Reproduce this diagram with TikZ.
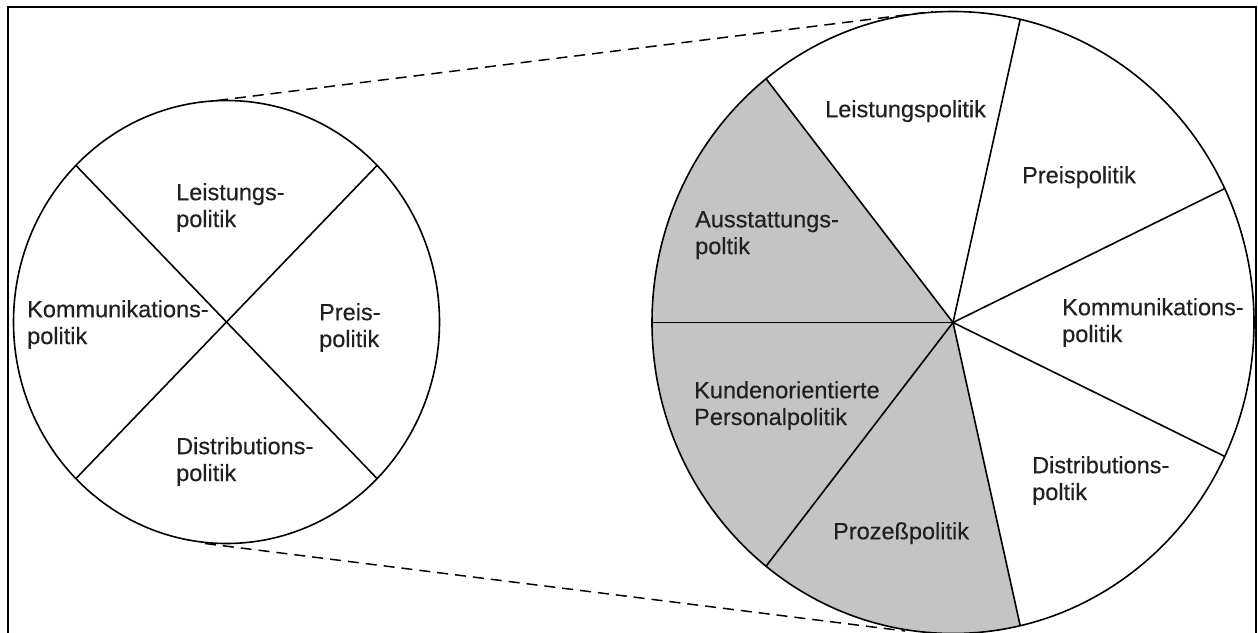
\documentclass[tikz,border=0pt]{standalone}
\usepackage{fontspec}
\setmainfont{Liberation Sans}
\newfontfamily\labelfont{Liberation Sans}[UprightFeatures={FakeBold=0.4}]
\usetikzlibrary{calc}
\definecolor{sectorgray}{RGB}{196,196,196}
\definecolor{ink}{RGB}{35,31,32}
\begin{document}
\begin{tikzpicture}[x=1pt,y=-1pt,
  frameline/.style={line width=2.2pt,black},
  rim/.style={line width=1.6pt,black},
  spoke/.style={line width=1.6pt,black},
  zoomline/.style={line width=1.5pt,black,dash pattern=on 11pt off 7pt},
  label/.style={anchor=north west,inner sep=0pt,align=left,text=ink,
    font=\labelfont\fontsize{23.5}{26.8}\selectfont}]
\useasboundingbox (0,0) rectangle (1258,632);
\clip (0,0) rectangle (1258,632);

% outer frame (open at the bottom edge)
\draw[frameline] (8,650) -- (8,7) -- (1256,7) -- (1256,650);

% ---- small circle: four instruments ----
\coordinate (LC) at (226.5,322);
\foreach \a/\n in {45/a,135/b,225/c,315/d}
  \coordinate (L\n) at ($(LC)+({213pt*cos(\a)},{221.5pt*sin(\a)})$);
\draw[spoke] (La) -- (Lc);
\draw[spoke] (Lb) -- (Ld);
\draw[rim] (LC) ellipse [x radius=213pt, y radius=221.5pt];
\coordinate (LT) at (217,100.5);
\coordinate (LB) at (205,543.5);

\node[label] (l1) at (176,183) {Leistungs-\\politik};
\node[label] (l2) at (27,300) {Kommunikations-\\politik};
\node[label] (l3) at (319,303) {Preis-\\politik};
\node[label] (l4) at (176,437) {Distributions-\\politik};

% ---- large circle: seven instruments ----
\coordinate (RC) at (953,322.5);
\fill[sectorgray] (RC) -- ($(RC)+({301pt*cos(128.4)},{311pt*sin(128.4)})$)
  arc[start angle=128.4, end angle=282.9, x radius=301pt, y radius=311pt] -- cycle;
\foreach \a/\n in {77.1/a,25.5/b,-25.5/c,-77.1/d,-128.4/e,180/f,128.4/g}{
  \coordinate (R\n) at ($(RC)+({301pt*cos(\a)},{311pt*sin(\a)})$);
  \draw[spoke] (RC) -- (R\n);
}
\draw[rim] (RC) ellipse [x radius=301pt, y radius=311pt];
\coordinate (RT) at (933,11.5);
\coordinate (RB) at (905,631);

\node[label] (r1) at (825,100) {Leistungspolitik};
\node[label] (r2) at (1022,166) {Preispolitik};
\node[label] (r3) at (695,211) {Ausstattungs-\\poltik};
\node[label] (r4) at (1062,298) {Kommunikations-\\politik};
\node[label] (r5) at (694,381) {Kundenorientierte\\Personalpolitik};
\node[label] (r6) at (1032,456) {Distributions-\\poltik};
\node[label] (r7) at (833,522) {Prozeßpolitik};

% ---- magnification lines ----
\draw[zoomline] (LT) -- (RT);
\draw[zoomline] (LB) -- (RB);
\end{tikzpicture}
\end{document}
